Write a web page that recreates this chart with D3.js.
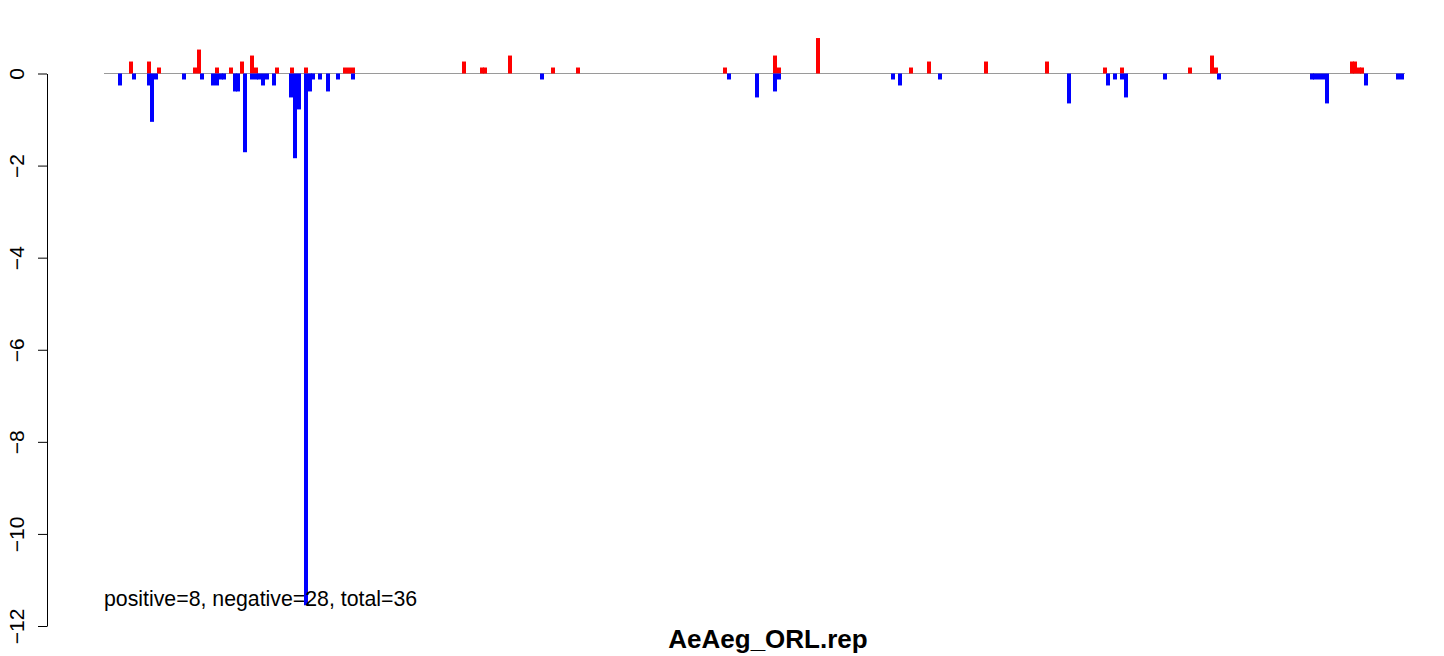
<!DOCTYPE html>
<html>
<head>
<meta charset="utf-8">
<script src="https://cdn.jsdelivr.net/npm/d3@7"></script>
<style>
  html, body { margin: 0; padding: 0; background: #fff; }
  svg { display: block; }
  text { font-family: "Liberation Sans", Arial, Helvetica, sans-serif; }
</style>
</head>
<body>
<svg id="chart" width="1444" height="656"></svg>
<script>
// ---------- DATA ----------
// positions along the sequence (arbitrary position units) and values
const redPos = [27, 45, 55, 91, 95, 113, 127, 138, 148, 152, 173, 188, 202, 241, 245, 249,
                360, 378, 381, 406, 449, 474, 621, 671, 675, 714, 807, 825, 882, 943,
                1001, 1018, 1086, 1108, 1112, 1248, 1251, 1255, 1258];
const redVal = [0.26, 0.26, 0.13, 0.13, 0.52, 0.13, 0.13, 0.26, 0.39, 0.13, 0.13, 0.13, 0.13, 0.13, 0.13, 0.13,
                0.26, 0.13, 0.13, 0.39, 0.13, 0.13, 0.13, 0.39, 0.13, 0.77, 0.13, 0.26, 0.26, 0.26,
                0.13, 0.13, 0.13, 0.39, 0.13, 0.26, 0.26, 0.13, 0.13];
const bluePos = [16, 30, 45, 48, 52, 80, 98, 109, 113, 117, 120, 131, 134, 141, 148, 152, 155, 159, 163, 170,
                 187, 191, 195, 202, 206, 209, 216, 224, 234, 249, 438, 625, 653, 671, 675, 789, 796, 836,
                 965, 1004, 1011, 1018, 1022, 1061, 1115, 1208, 1211, 1215, 1219, 1223, 1262, 1294, 1298];
const blueVal = [-0.26, -0.13, -0.26, -1.05, -0.13, -0.13, -0.13, -0.26, -0.26, -0.13, -0.13, -0.39, -0.39, -1.71, -0.13, -0.13, -0.13, -0.26, -0.13, -0.26,
                 -0.52, -1.84, -0.78, -11.55, -0.39, -0.13, -0.13, -0.39, -0.13, -0.13, -0.13, -0.13, -0.52, -0.39, -0.13, -0.13, -0.26, -0.13,
                 -0.65, -0.26, -0.13, -0.13, -0.52, -0.13, -0.13, -0.13, -0.13, -0.13, -0.13, -0.65, -0.26, -0.13, -0.13];
const xDomain = [0, 1301];
const yTicks = [0, -2, -4, -6, -8, -10, -12];
const yTickLabels = ["0", "\u22122", "\u22124", "\u22126", "\u22128", "\u221210", "\u221212"];
const summaryText = "positive=8, negative=28, total=36";
const titleText = "AeAeg_ORL.rep";

// ---------- LAYOUT ----------
const svg = d3.select("#chart");
const x = d3.scaleLinear().domain(xDomain).range([104, 1405]);
const y = d3.scaleLinear().domain([-12, 0]).range([626, 73.5]);
const barW = x(4) - x(0);

// baseline
svg.append("line")
  .attr("x1", x(xDomain[0])).attr("x2", x(xDomain[1]))
  .attr("y1", y(0)).attr("y2", y(0))
  .attr("stroke", "#9a9a9a").attr("stroke-width", 1.2);

// bars
const red = redPos.map((p, i) => ({p, v: redVal[i]}));
const blue = bluePos.map((p, i) => ({p, v: blueVal[i]}));

svg.append("g").selectAll("rect").data(red).join("rect")
  .attr("x", d => x(d.p) - barW / 2)
  .attr("width", barW)
  .attr("y", d => y(d.v))
  .attr("height", d => y(0) - y(d.v))
  .attr("fill", "#ff0000");

svg.append("g").selectAll("rect").data(blue).join("rect")
  .attr("x", d => x(d.p) - barW / 2)
  .attr("width", barW)
  .attr("y", y(0))
  .attr("height", d => y(d.v) - y(0))
  .attr("fill", "#0000ff");

// y axis
const axis = d3.axisLeft(y).tickValues(yTicks).tickFormat((d, i) => yTickLabels[i]).tickSize(9).tickSizeOuter(0);
const gA = svg.append("g").attr("transform", "translate(47,0)").call(axis);
gA.select(".domain").attr("stroke", "#000").attr("stroke-width", 1);
gA.selectAll(".tick line").attr("stroke", "#000").attr("stroke-width", 1);
gA.selectAll(".tick text")
  .attr("font-size", 21)
  .attr("fill", "#000")
  .attr("text-anchor", "middle")
  .attr("x", 0).attr("y", 0).attr("dy", 0)
  .attr("transform", "translate(-23,0) rotate(-90)");

// summary text
svg.append("text")
  .attr("x", 104).attr("y", 606)
  .attr("font-size", 21.3)
  .attr("fill", "#000")
  .text(summaryText);

// title
svg.append("text")
  .attr("x", 768).attr("y", 648)
  .attr("text-anchor", "middle")
  .attr("font-size", 26)
  .attr("font-weight", "bold")
  .attr("fill", "#000")
  .text(titleText);
</script>
</body>
</html>
